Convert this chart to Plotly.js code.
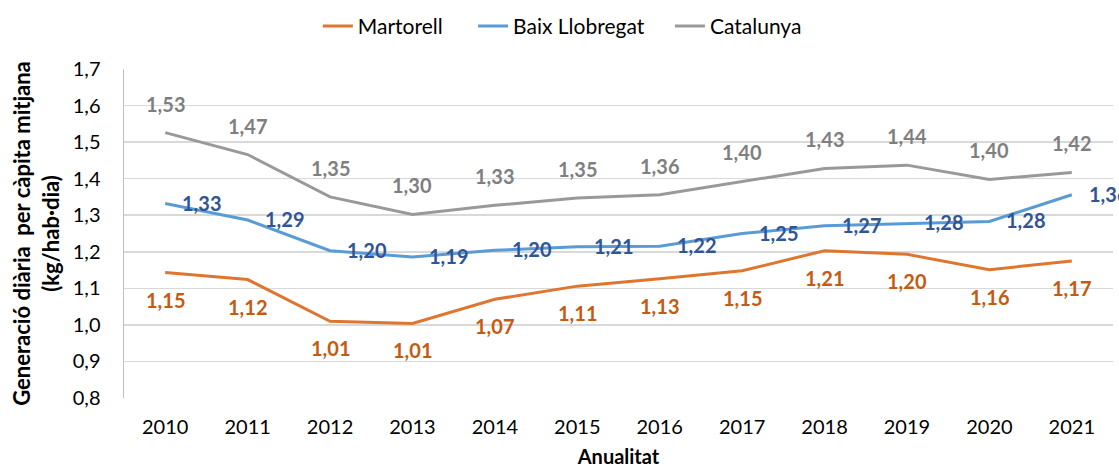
<!DOCTYPE html>
<html>
<head>
<meta charset="utf-8">
<script src="https://cdn.plot.ly/plotly-3.0.1.min.js"></script>
<style>html,body{margin:0;padding:0;background:#fff;}#chart{width:1119px;height:468px;}</style>
</head>
<body>
<div id="chart"></div>
<script>
const years = ['2010','2011','2012','2013','2014','2015','2016','2017','2018','2019','2020','2021'];
const martorell = [1.143,1.124,1.010,1.004,1.070,1.106,1.126,1.148,1.203,1.193,1.151,1.175];
const baix = [1.332,1.287,1.203,1.186,1.204,1.214,1.215,1.250,1.271,1.278,1.283,1.356];
const catalunya = [1.526,1.466,1.350,1.302,1.327,1.347,1.356,1.393,1.428,1.437,1.398,1.417];
const martorellLabels = ['1,15','1,12','1,01','1,01','1,07','1,11','1,13','1,15','1,21','1,20','1,16','1,17'];
const baixLabels = ['1,33','1,29','1,20','1,19','1,20','1,21','1,22','1,25','1,27','1,28','1,28','1,36'];
const catalunyaLabels = ['1,53','1,47','1,35','1,30','1,33','1,35','1,36','1,40','1,43','1,44','1,40','1,42'];

const FONT = 'Lato, "Open Sans", sans-serif';
const colors = {m:'#DF7630', b:'#5B9BD5', c:'#999999'};
const labelColors = {m:'#C55A11', b:'#2F5597', c:'#7F7F7F'};

const traces = [
  {x: years, y: martorell, name: 'Martorell', type: 'scatter', mode: 'lines', line: {color: colors.m, width: 3}, legend: 'legend'},
  {x: years, y: baix, name: 'Baix Llobregat', type: 'scatter', mode: 'lines', line: {color: colors.b, width: 3}, legend: 'legend2'},
  {x: years, y: catalunya, name: 'Catalunya', type: 'scatter', mode: 'lines', line: {color: colors.c, width: 3}, legend: 'legend3'}
];

function lab(i, y, text, color, opts) {
  return Object.assign({x: i, y: y, xref: 'x', yref: 'y', text: text, showarrow: false,
    font: {family: FONT, size: 20, color: color, weight: 700}}, opts);
}
const annotations = [];
for (let i = 0; i < years.length; i++) {
  annotations.push(lab(i, catalunya[i], catalunyaLabels[i], labelColors.c, {xanchor: 'center', yanchor: 'middle', yshift: 29}));
  annotations.push(lab(i, baix[i], baixLabels[i], labelColors.b, {xanchor: 'left', yanchor: 'middle', xshift: 15, yshift: 1}));
  annotations.push(lab(i, martorell[i], martorellLabels[i], labelColors.m, {xanchor: 'center', yanchor: 'middle', yshift: -27}));
}

const legendBase = {orientation: 'h', xanchor: 'left', y: 1.13, yanchor: 'middle',
  font: {family: FONT, size: 21, color: '#000'}, bgcolor: 'rgba(0,0,0,0)'};

const layout = {
  width: 1119, height: 468,
  margin: {l: 124, r: 6, t: 67, b: 70},
  paper_bgcolor: '#fff', plot_bgcolor: '#fff',
  separators: ',.',
  font: {family: FONT, size: 20, color: '#000'},
  showlegend: true,
  legend: Object.assign({}, legendBase, {x: 0.196}),
  legend2: Object.assign({}, legendBase, {x: 0.353}),
  legend3: Object.assign({}, legendBase, {x: 0.552}),
  xaxis: {
    type: 'category', range: [-0.5, 11.5], showgrid: false, zeroline: false,
    showline: false, ticks: 'outside', ticklen: 11, tickcolor: 'rgba(0,0,0,0)',
    tickfont: {family: FONT, size: 20, color: '#000'},
    title: {text: 'Anualitat', font: {family: FONT, size: 20, color: '#000', weight: 700}, standoff: 19}
  },
  yaxis: {
    range: [0.8, 1.7], dtick: 0.1, tick0: 0.8, tickformat: '.1f',
    showgrid: true, gridcolor: '#D9D9D9', gridwidth: 1.5, zeroline: false,
    showline: true, linecolor: '#BFBFBF', linewidth: 1.5,
    ticks: 'outside', ticklen: 18, tickcolor: 'rgba(0,0,0,0)',
    tickfont: {family: FONT, size: 20, color: '#000'},
    title: {text: 'Generació diària  per càpita mitjana<br>(kg/hab·dia)', font: {family: FONT, size: 22, color: '#000', weight: 700}, standoff: 7}
  },
  annotations: annotations
};

Plotly.newPlot('chart', traces, layout, {displayModeBar: false, staticPlot: true});
</script>
</body>
</html>
